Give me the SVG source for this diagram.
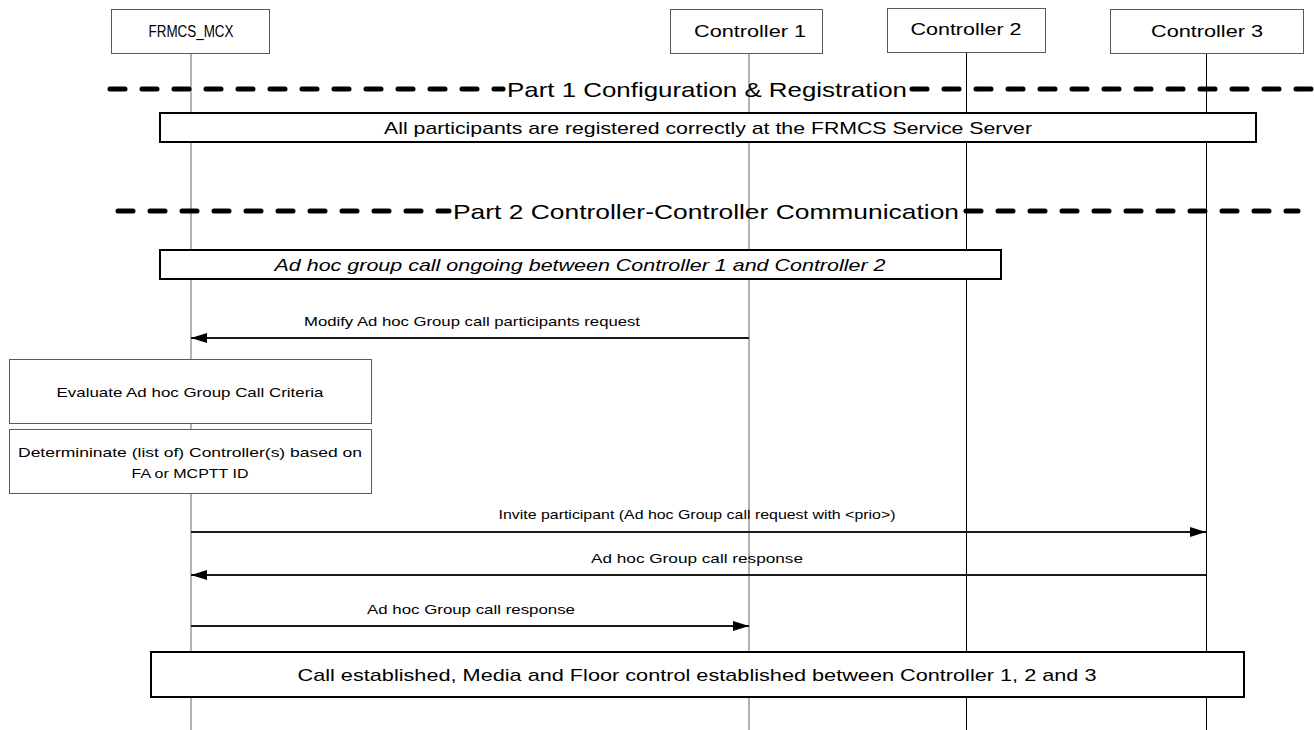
<svg xmlns="http://www.w3.org/2000/svg" width="1314" height="730" viewBox="0 0 1314 730">
<defs>
<style>
text{font-family:"Liberation Sans",Arial,sans-serif;fill:#000}
.hdr{fill:#fff;stroke:#595959;stroke-width:1}
.ht{font-size:16px;text-anchor:middle}
.life1{stroke:#7f7f7f;stroke-width:1.2}
.life2{stroke:#000;stroke-width:1}
.part{stroke:#000;stroke-width:5;stroke-dasharray:15 17;stroke-linecap:round;fill:none}
.pt{font-size:21px;text-anchor:middle}
.note{fill:#fff;stroke:#000;stroke-width:2}
.nt{font-size:17px;text-anchor:middle}
.proc{fill:#fff;stroke:#595959;stroke-width:1}
.msg{stroke:#1a1a1a;stroke-width:2;fill:none;marker-end:url(#ah)}
.mt{font-size:13.5px;text-anchor:middle}
</style>
<marker id="ah" viewBox="0 0 16 10" refX="16" refY="5" markerWidth="16" markerHeight="10" markerUnits="userSpaceOnUse" orient="auto">
<path d="M0,0 L16,5 L0,10 Z" fill="#000"/>
</marker>
</defs>

<g id="lifelines">
<line class="life1" x1="191" y1="54" x2="191" y2="730"/>
<line class="life1" x1="749" y1="54" x2="749" y2="730"/>
<line class="life2" x1="966.5" y1="52" x2="966.5" y2="730"/>
<line class="life2" x1="1206.5" y1="54" x2="1206.5" y2="730"/>
</g>

<g id="frmcs_mcx">
<rect class="hdr" x="111.5" y="9.5" width="158" height="44"/>
<text class="ht" x="191" y="37" textLength="85" lengthAdjust="spacingAndGlyphs">FRMCS_MCX</text>
</g>
<g id="controller1">
<rect class="hdr" x="670.5" y="9.5" width="152" height="44"/>
<text class="ht" x="750" y="37" textLength="112" lengthAdjust="spacingAndGlyphs">Controller 1</text>
</g>
<g id="controller2">
<rect class="hdr" x="887.5" y="8.5" width="158" height="44"/>
<text class="ht" x="966" y="35" textLength="111" lengthAdjust="spacingAndGlyphs">Controller 2</text>
</g>
<g id="controller3">
<rect class="hdr" x="1110.5" y="9.5" width="193" height="44"/>
<text class="ht" x="1207" y="37" textLength="112" lengthAdjust="spacingAndGlyphs">Controller 3</text>
</g>

<g id="part1">
<line class="part" x1="110" y1="89" x2="503" y2="89"/>
<line class="part" x1="912" y1="89" x2="1314" y2="89"/>
<text class="pt" x="707" y="97" textLength="400" lengthAdjust="spacingAndGlyphs">Part 1 Configuration &amp; Registration</text>
</g>

<g id="note_registered">
<rect class="note" x="160" y="113" width="1096" height="29"/>
<text class="nt" x="708" y="134" textLength="648" lengthAdjust="spacingAndGlyphs">All participants are registered correctly at the FRMCS Service Server</text>
</g>

<g id="part2">
<line class="part" x1="118" y1="211" x2="449" y2="211"/>
<line class="part" x1="966" y1="211" x2="1298" y2="211"/>
<text class="pt" x="706" y="219" textLength="506" lengthAdjust="spacingAndGlyphs">Part 2 Controller-Controller Communication</text>
</g>

<g id="note_ongoing">
<rect class="note" x="160" y="250" width="841" height="29"/>
<text class="nt" x="580" y="271" font-style="italic" textLength="611" lengthAdjust="spacingAndGlyphs">Ad hoc group call ongoing between Controller 1 and Controller 2</text>
</g>

<g id="evaluate">
<rect class="proc" x="9.5" y="359.5" width="362" height="64"/>
<text class="mt" x="190" y="397" textLength="267" lengthAdjust="spacingAndGlyphs">Evaluate Ad hoc Group Call Criteria</text>
</g>
<g id="determinate">
<rect class="proc" x="9.5" y="429.5" width="362" height="64"/>
<text class="mt" x="190" y="457" textLength="344" lengthAdjust="spacingAndGlyphs">Determininate (list of) Controller(s) based on</text>
<text class="mt" x="190" y="478" textLength="117" lengthAdjust="spacingAndGlyphs">FA or MCPTT ID</text>
</g>

<g id="connectors">
<line class="msg" x1="749" y1="338" x2="191" y2="338"/>
<line class="msg" x1="191" y1="532" x2="1206" y2="532"/>
<line class="msg" x1="1206" y1="575" x2="191" y2="575"/>
<line class="msg" x1="191" y1="626" x2="749" y2="626"/>
<text class="mt" x="472" y="326" textLength="336" lengthAdjust="spacingAndGlyphs">Modify Ad hoc Group call participants request</text>
<text class="mt" x="697" y="519" textLength="397" lengthAdjust="spacingAndGlyphs">Invite participant (Ad hoc Group call request with &lt;prio&gt;)</text>
<text class="mt" x="697" y="563" textLength="212" lengthAdjust="spacingAndGlyphs">Ad hoc Group call response</text>
<text class="mt" x="471" y="614" textLength="208" lengthAdjust="spacingAndGlyphs">Ad hoc Group call response</text>
</g>

<g id="note_established">
<rect class="note" x="151" y="652" width="1093" height="45"/>
<text class="nt" x="697" y="681" textLength="799" lengthAdjust="spacingAndGlyphs">Call established, Media and Floor control established between Controller 1, 2 and 3</text>
</g>
</svg>
